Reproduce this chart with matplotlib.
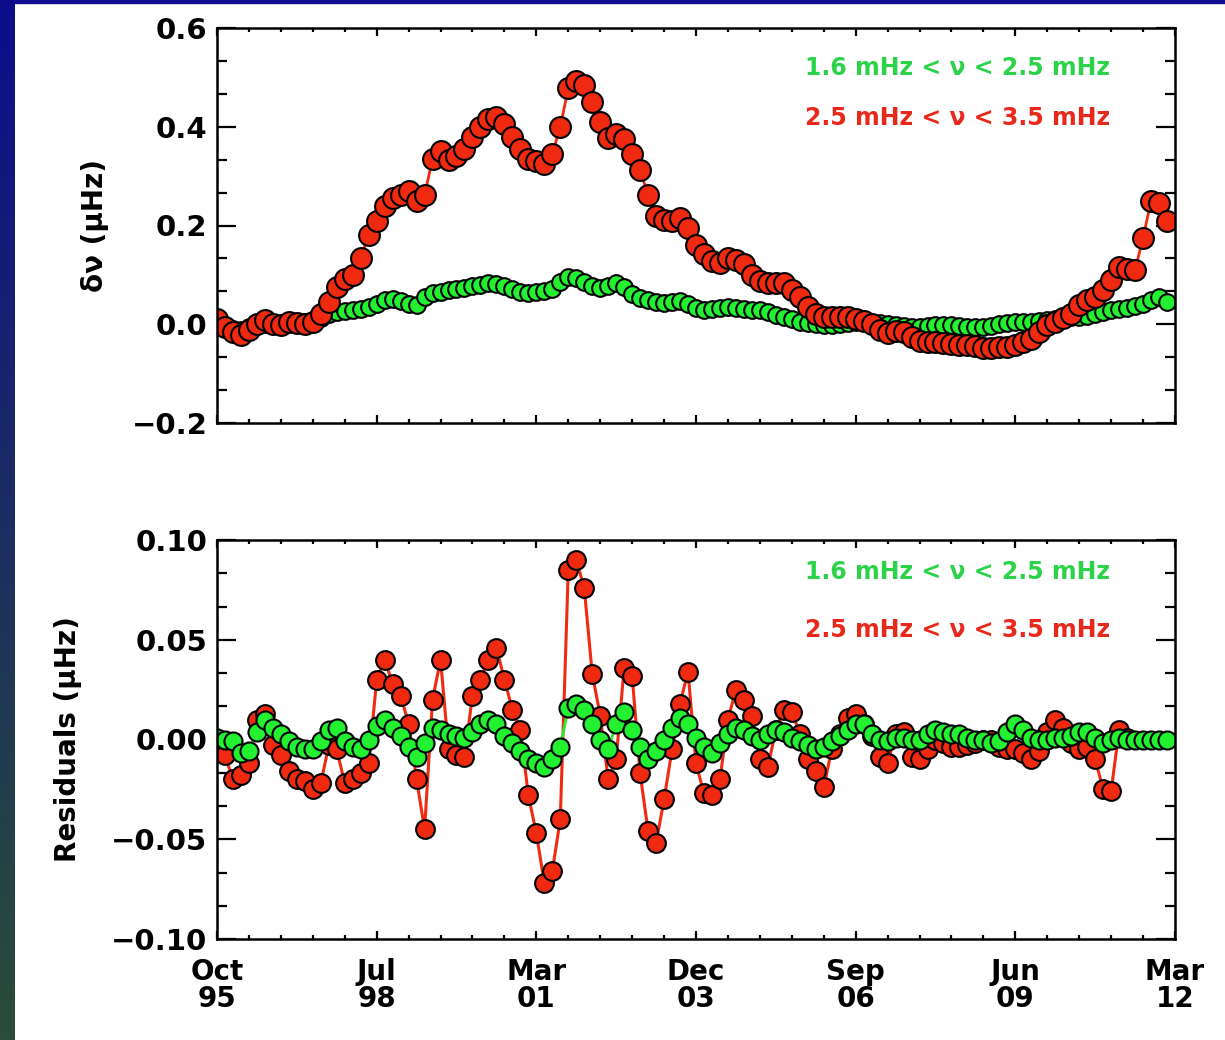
import numpy as np
import matplotlib.pyplot as plt
from matplotlib.ticker import AutoMinorLocator
from matplotlib.patches import Rectangle

# time axis in days since Oct 1995, one point every 50 days
days = np.arange(0, 6000, 50)

# frequency shifts (muHz), 1.6-2.5 mHz band
dnu_low = [0.005, -0.005, -0.010, -0.012, -0.006, -0.002, 0.000, 0.000, 0.001, 0.002,
           0.003, 0.005, 0.008, 0.012, 0.020, 0.024, 0.026, 0.028, 0.030, 0.034,
           0.042, 0.050, 0.052, 0.048, 0.042, 0.040, 0.055, 0.063, 0.066, 0.069,
           0.071, 0.074, 0.077, 0.080, 0.083, 0.082, 0.077, 0.072, 0.066, 0.063,
           0.066, 0.068, 0.072, 0.085, 0.095, 0.094, 0.085, 0.077, 0.074, 0.078,
           0.083, 0.075, 0.062, 0.054, 0.050, 0.045, 0.043, 0.045, 0.048, 0.042,
           0.032, 0.028, 0.030, 0.032, 0.034, 0.033, 0.030, 0.028, 0.028, 0.024,
           0.018, 0.014, 0.010, 0.004, 0.002, 0.000, -0.002, -0.002, 0.000, 0.002,
           0.004, 0.004, 0.002, 0.002, 0.000, -0.002, -0.004, -0.006, -0.006, -0.004,
           -0.002, -0.002, -0.002, -0.004, -0.005, -0.006, -0.006, -0.004, 0.000, 0.002,
           0.004, 0.004, 0.005, 0.007, 0.008, 0.010, 0.012, 0.014, 0.014, 0.016,
           0.020, 0.024, 0.028, 0.030, 0.032, 0.036, 0.042, 0.050, 0.055, 0.045]

# frequency shifts (muHz), 2.5-3.5 mHz band
dnu_high = [0.010, -0.005, -0.015, -0.022, -0.012, 0.000, 0.008, 0.000, -0.002, 0.004,
            0.003, 0.001, 0.004, 0.020, 0.045, 0.075, 0.092, 0.100, 0.135, 0.180,
            0.210, 0.240, 0.255, 0.262, 0.270, 0.250, 0.262, 0.335, 0.350, 0.332,
            0.340, 0.355, 0.380, 0.400, 0.415, 0.420, 0.405, 0.380, 0.355, 0.335,
            0.330, 0.325, 0.345, 0.400, 0.478, 0.493, 0.485, 0.450, 0.410, 0.378,
            0.385, 0.375, 0.345, 0.312, 0.262, 0.220, 0.212, 0.210, 0.215, 0.195,
            0.160, 0.142, 0.128, 0.125, 0.135, 0.130, 0.122, 0.100, 0.087, 0.083,
            0.083, 0.084, 0.070, 0.055, 0.035, 0.020, 0.015, 0.014, 0.014, 0.014,
            0.010, 0.006, 0.000, -0.012, -0.018, -0.014, -0.015, -0.025, -0.033, -0.036,
            -0.036, -0.038, -0.040, -0.042, -0.042, -0.045, -0.048, -0.049, -0.047, -0.046,
            -0.042, -0.036, -0.030, -0.015, -0.002, 0.004, 0.012, 0.020, 0.040, 0.050,
            0.055, 0.070, 0.090, 0.115, 0.112, 0.110, 0.175, 0.250, 0.245, 0.210]

# residuals (muHz), 1.6-2.5 mHz band
res_low = [0.001, 0.000, -0.001, -0.007, -0.006, 0.004, 0.010, 0.006, 0.003, -0.001,
           -0.004, -0.005, -0.005, -0.001, 0.005, 0.006, -0.001, -0.004, -0.005, 0.000,
           0.007, 0.010, 0.006, 0.002, -0.004, -0.009, -0.002, 0.006, 0.005, 0.003,
           0.002, 0.001, 0.004, 0.008, 0.010, 0.008, 0.002, -0.002, -0.006, -0.010,
           -0.012, -0.014, -0.010, -0.004, 0.016, 0.018, 0.015, 0.008, 0.000, -0.005,
           0.008, 0.014, 0.005, -0.004, -0.010, -0.006, 0.000, 0.006, 0.011, 0.008,
           0.001, -0.004, -0.007, -0.002, 0.003, 0.006, 0.005, 0.002, 0.000, 0.003,
           0.005, 0.004, 0.001, -0.001, -0.003, -0.005, -0.004, -0.001, 0.002, 0.005,
           0.008, 0.008, 0.003, 0.000, -0.001, 0.001, 0.001, 0.000, 0.000, 0.003,
           0.005, 0.004, 0.003, 0.003, 0.001, 0.000, 0.000, -0.002, -0.001, 0.004,
           0.008, 0.005, 0.001, 0.000, 0.000, 0.001, 0.001, 0.002, 0.004, 0.004,
           0.001, -0.002, 0.000, 0.001, 0.000, 0.000, 0.000, 0.000, 0.000, 0.000]

# residuals (muHz), 2.5-3.5 mHz band (ends earlier)
res_high = [0.000, -0.008, -0.020, -0.018, -0.012, 0.010, 0.013, -0.003, -0.008, -0.016,
            -0.020, -0.021, -0.025, -0.022, -0.003, -0.005, -0.022, -0.020, -0.017, -0.012,
            0.030, 0.040, 0.028, 0.022, 0.008, -0.020, -0.045, 0.020, 0.040, -0.005,
            -0.008, -0.009, 0.022, 0.030, 0.040, 0.046, 0.030, 0.015, 0.005, -0.028,
            -0.047, -0.072, -0.066, -0.040, 0.085, 0.090, 0.076, 0.033, 0.012, -0.020,
            -0.010, 0.036, 0.032, -0.017, -0.046, -0.052, -0.030, -0.005, 0.018, 0.034,
            -0.012, -0.027, -0.028, -0.020, 0.010, 0.025, 0.020, 0.012, -0.010, -0.014,
            0.005, 0.015, 0.014, 0.003, -0.010, -0.016, -0.024, -0.005, 0.003, 0.011,
            0.013, 0.008, 0.002, -0.009, -0.012, 0.003, 0.004, -0.009, -0.010, -0.005,
            0.000, -0.002, -0.004, -0.004, -0.003, -0.002, 0.000, 0.000, -0.004, -0.005,
            -0.005, -0.007, -0.010, -0.006, 0.004, 0.010, 0.006, -0.002, -0.005, -0.004,
            -0.010, -0.025, -0.026, 0.005, 0.001]

tick_days = [0, 1000, 2000, 3000, 4000, 5000, 6000]
tick_labels = ['Oct\n95', 'Jul\n98', 'Mar\n01', 'Dec\n03', 'Sep\n06', 'Jun\n09', 'Mar\n12']
top_yticks = [-0.2, 0.0, 0.2, 0.4, 0.6]
top_ylabels = ['\u22120.2', '0.0', '0.2', '0.4', '0.6']
bot_yticks = [-0.10, -0.05, 0.0, 0.05, 0.10]
bot_ylabels = ['\u22120.10', '\u22120.05', '0.00', '0.05', '0.10']
label_low = '1.6 mHz < \u03bd < 2.5 mHz'
label_high = '2.5 mHz < \u03bd < 3.5 mHz'

green = '#22f030'
red = '#f02a10'
green_txt = '#2bd24a'
red_txt = '#e8281a'

plt.rcParams['font.family'] = ['DejaVu Sans']

fig = plt.figure(figsize=(12.25, 10.4), dpi=100)
fig.patch.set_facecolor('white')

# slide background strip on the left and top
bg = fig.add_axes([0, 0, 15 / 1225, 1])
top_c = np.array([0.05, 0.05, 0.55])
bot_c = np.array([0.17, 0.30, 0.22])
t = np.linspace(0, 1, 256)[:, None]
grad = (1 - t)[:, :, None] * top_c + t[:, :, None] * bot_c
bg.imshow(grad, aspect='auto', extent=[0, 1, 0, 1])
bg.axis('off')
fig.add_artist(Rectangle((0, 1 - 3 / 1040), 1, 3 / 1040, transform=fig.transFigure,
                         color='#0c0c8c', zorder=0))

ax1 = fig.add_axes([217 / 1225, 1 - 423 / 1040, 958 / 1225, 395 / 1040])
ax2 = fig.add_axes([217 / 1225, 1 - 939 / 1040, 958 / 1225, 399 / 1040])

ax1.plot(days, dnu_low, '-o', color=green, mfc=green, mec='black', ms=12, mew=1.5, lw=2)
ax1.plot(days, dnu_high, '-o', color=red, mfc=red, mec='black', ms=15, mew=1.5, lw=2)

ax2.plot(days[:len(res_high)], res_high, '-o', color=red, mfc=red, mec='black', ms=13.5, mew=1.5, lw=2.2)
ax2.plot(days, res_low, '-o', color=green, mfc=green, mec='black', ms=13, mew=1.5, lw=2)

ax1.set_ylim(-0.2, 0.6)
ax2.set_ylim(-0.1, 0.1)
ax1.set_yticks(top_yticks)
ax1.set_yticklabels(top_ylabels)
ax2.set_yticks(bot_yticks)
ax2.set_yticklabels(bot_ylabels)

for ax in (ax1, ax2):
    ax.set_xlim(0, 6000)
    ax.set_xticks(tick_days)
    ax.xaxis.set_minor_locator(AutoMinorLocator(5))
    ax.yaxis.set_minor_locator(AutoMinorLocator(3))
    ax.tick_params(axis='both', which='both', direction='in', top=True, right=True, width=1.6)
    ax.tick_params(axis='x', which='major', length=6)
    ax.tick_params(axis='x', which='minor', length=3)
    ax.tick_params(axis='y', which='major', length=14, pad=7)
    ax.tick_params(axis='y', which='minor', length=7)
    for s in ax.spines.values():
        s.set_linewidth(1.8)
    for lab in ax.get_yticklabels():
        lab.set_fontsize(21)
        lab.set_fontweight('bold')

ax1.set_xticklabels([])
ax2.set_xticklabels(tick_labels, fontsize=20, fontweight='bold', linespacing=0.95)
ax2.tick_params(axis='x', which='major', pad=14)

ax1.set_ylabel('\u03b4\u03bd (\u03bcHz)', fontsize=20, fontweight='bold')
ax2.set_ylabel('Residuals (\u03bcHz)', fontsize=20, fontweight='bold')
ax1.yaxis.set_label_coords(-0.113, 0.5)
ax2.yaxis.set_label_coords(-0.141, 0.5)

for ax, y1, y2 in ((ax1, 0.899, 0.772), (ax2, 0.920, 0.774)):
    ax.text(0.932, y1, label_low, transform=ax.transAxes, ha='right', va='center',
            color=green_txt, fontsize=17, fontweight='bold')
    ax.text(0.932, y2, label_high, transform=ax.transAxes, ha='right', va='center',
            color=red_txt, fontsize=17, fontweight='bold')

fig.savefig('out.png', dpi=100)
